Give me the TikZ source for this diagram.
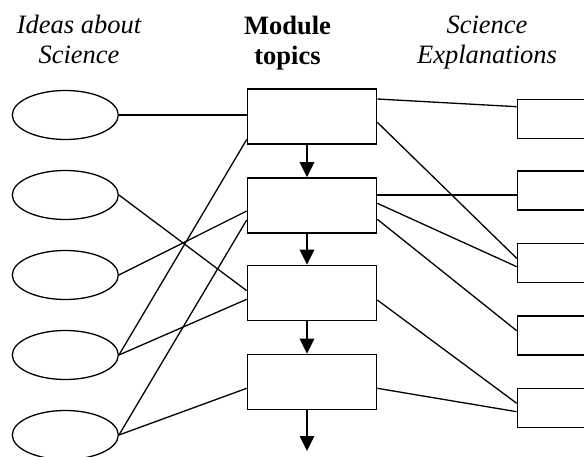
\documentclass[tikz,border=0pt]{standalone}
\usepackage{fontspec}
\setmainfont{Liberation Serif}
\usetikzlibrary{shapes.geometric,arrows.meta,calc}

\begin{document}
\begin{tikzpicture}[x=1pt,y=-1pt,
    idee/.style={draw,ellipse,line width=1.3pt,minimum width=106pt,minimum height=49pt,inner sep=0pt},
    module/.style={draw,rectangle,line width=1.6pt,minimum width=129pt,minimum height=55pt,inner sep=0pt},
    expli/.style={draw,rectangle,line width=1.6pt,minimum width=100pt,minimum height=39pt,inner sep=0pt},
    titre/.style={anchor=north,align=center,inner sep=0pt,font=\fontsize{26.5}{30.5}\selectfont#1},
    lien/.style={line width=1.3pt},
    fleche/.style={line width=1.3pt,-{Triangle[length=15pt,width=14.5pt]}}]
    % Cadre
    \useasboundingbox (0,0) rectangle (584,457);
    \clip (0,0) rectangle (584,457);
    % Titres
    \node[titre=\itshape] (tidee) at (79,14.5) {Ideas about\\Science};
    \node[titre=\bfseries] (tmodule) at (287.5,15.5) {Module\\topics};
    \node[titre=\itshape] (texpli) at (487,15.5) {Science\\Explanations};
    % Ellipses, modules et explications
    \foreach \i/\y in {1/115,2/195,3/275,4/355,5/435}
        \node[idee] (e\i) at (65.3,\y) {};
    \foreach \i/\y in {1/116.5,2/205.5,3/293,4/382}
        \node[module] (b\i) at (312,\y) {};
    \foreach \i/\y in {1/119,2/190.5,3/263,4/335.5,5/408}
        \node[expli] (r\i) at (567.5,\y) {};
    % Fleches entre modules
    \coordinate (fin) at (307,451);
    \foreach \a/\b in {b1/b2,b2/b3,b3/b4}
        \draw[fleche] ($(\a.south)+(-5,0)$) -- ($(\b.north)+(-5,0)$);
    \draw[fleche] ($(b4.south)+(-5,0)$) -- (fin);
    % Liaisons a gauche
    \draw[lien] (e1) -- (e1 -| b1.west);
    \draw[lien] (e2.east) -- ($(b3.west)+(0,-2.3)$);
    \draw[lien] (e3.east) -- ($(b2.west)+(0,5.5)$);
    \draw[lien] (e4.east) -- ($(b1.west)+(0,23)$);
    \draw[lien] (e4.east) -- ($(b3.west)+(0,6.3)$);
    \draw[lien] (e5.east) -- ($(b2.west)+(0,14.5)$);
    \draw[lien] (e5.east) -- ($(b4.west)+(0,6.3)$);
    % Liaisons a droite
    \draw[lien] ($(b1.east)+(0,-17.5)$) -- ($(r1.west)+(0,-12.3)$);
    \draw[lien] ($(b1.east)+(0,5.8)$) -- ($(r3.west)+(0,-4.7)$);
    \draw[lien] ($(b2.east)+(0,-10.5)$) -- ($(r2.west)+(0,4.5)$);
    \draw[lien] ($(b2.east)+(0,-2.2)$) -- ($(r3.west)+(0,3.7)$);
    \draw[lien] ($(b2.east)+(0,13.8)$) -- ($(r4.west)+(0,-4.8)$);
    \draw[lien] ($(b3.east)+(0,7)$) -- ($(r5.west)+(0,-4.7)$);
    \draw[lien] ($(b4.east)+(0,6.3)$) -- ($(r5.west)+(0,3.7)$);
\end{tikzpicture}
\end{document}
